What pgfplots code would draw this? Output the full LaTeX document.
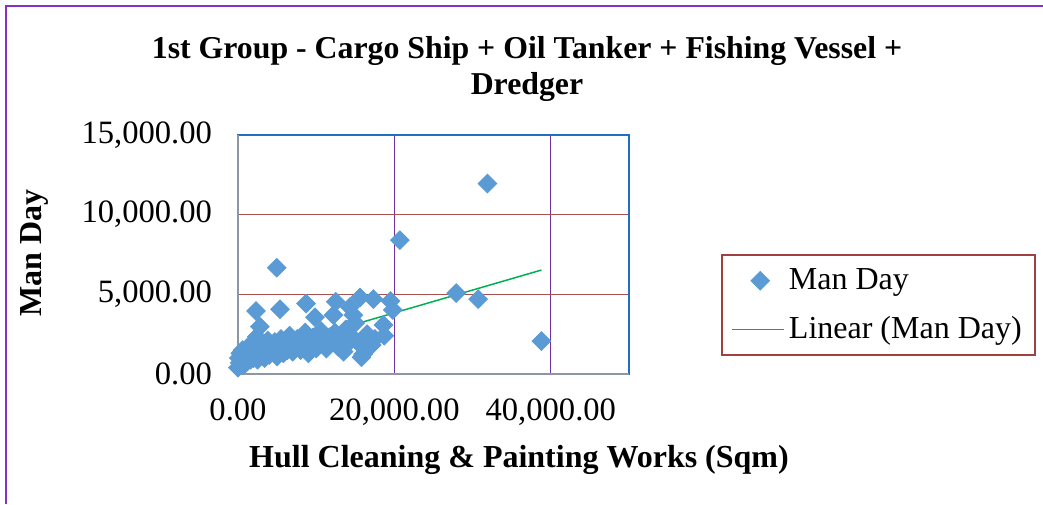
\documentclass[border=0pt]{standalone}
\usepackage{fontspec}
\setmainfont{Liberation Serif}
\usepackage{pgfplots}
\pgfplotsset{compat=1.18}

\definecolor{mdblue}{RGB}{91,155,213}
\definecolor{trendgreen}{RGB}{0,176,80}
\definecolor{gridred}{RGB}{166,80,80}
\definecolor{gridpurple}{RGB}{112,48,160}
\definecolor{framepurple}{RGB}{130,50,200}
\definecolor{plotblue}{RGB}{31,112,192}
\definecolor{axisgray}{RGB}{140,150,165}
\definecolor{legendred}{RGB}{160,64,64}

\pgfplotsset{
  marklegend/.style={legend image code/.code={\draw[mark repeat=2,mark phase=2,##1]
    plot coordinates {(0pt,0pt) (14pt,0pt) (28pt,0pt)};}},
  linelegend/.style={legend image code/.code={\draw[draw=trendgreen, line width=0.75pt]
    (0pt,0pt) -- (26pt,0pt);}},
}

\begin{document}
\begin{tikzpicture}
\useasboundingbox (0,0) rectangle (521.5pt,252pt);
\draw[framepurple, line width=1pt] (3pt,0) -- (3pt,248.75pt) -- (521.5pt,248.75pt);

% chart title
\node[font=\bfseries\fontsize{15.9}{18}\selectfont, align=center] at (263.5pt,217.5pt)
  {1st Group - Cargo Ship + Oil Tanker + Fishing Vessel +\\Dredger};

\begin{axis}[
    at={(119pt,65pt)}, anchor=south west,
    scale only axis, width=195.5pt, height=119.5pt,
    xmin=0, xmax=50000, ymin=0, ymax=15000,
    scaled ticks=false,
    xtick={0,20000,40000},
    xticklabels={{0.00},{20,000.00},{40,000.00}},
    ytick={0,5000,10000,15000},
    yticklabels={{0.00},{5,000.00},{10,000.00},{15,000.00}},
    major tick length=0pt,
    tick label style={font=\fontsize{16.3}{18}\selectfont},
    xticklabel style={yshift=-9pt},
    yticklabel style={xshift=-9.5pt},
    xmajorgrids, ymajorgrids,
    x grid style={gridpurple, line width=0.6pt},
    y grid style={gridred, line width=0.6pt},
    axis line style={plotblue, line width=1pt},
    clip=false,
    legend cell align=left,
    legend style={at={(1.238,0.287)}, anchor=west, name=leg,
      draw=none,
      font=\fontsize{16}{18}\selectfont,
      inner xsep=4.5pt, inner ysep=4.5pt, row sep=8pt},
]
\draw[axisgray, line width=1pt] (rel axis cs:0,1) -- (rel axis cs:0,0) -- (rel axis cs:1,0);

% Man Day vs hull area
\addplot[mdblue, only marks, mark=square*, mark size=3.3pt,
  mark options={rotate=45, fill=mdblue, draw=mdblue}, marklegend]
coordinates {
 (0,400) (200,700) (100,1000) (300,1300) (500,900) (600,1500) (800,600)
 (900,1100) (1000,1400) (1200,800) (1300,1700) (1500,1200) (1600,900)
 (1800,1500) (2000,1000) (2100,1800) (2300,1300) (2400,2340) (2500,900)
 (2800,2970) (2700,1600) (3000,1200) (3200,1900) (3400,1000) (3600,1500)
 (3800,2100) (4000,1200) (4200,1700) (4500,1400) (4700,2000) (5000,1100)
 (5300,1600) (5500,2200) (5800,1300) (6000,1800) (6300,1500) (6600,2400)
 (7000,1400) (7300,1900) (7600,2200) (8000,1500) (8300,1800) (8600,2600)
 (9000,1300) (9300,2000) (9600,2300) (10000,1600) (10300,2100) (10600,2700)
 (11000,1800) (11300,1600) (11700,2300) (12000,2000) (12200,3700) (12400,2600)
 (12800,1700) (13200,2200) (13500,1400) (13800,2800) (14000,1900) (14300,2900)
 (14600,2300) (15000,3200) (15300,2000) (15800,1050) (16000,1250) (16200,1800)
 (16500,2500) (17100,1820) (17500,2200)
 (2300,3950) (5370,4060) (8700,4420) (9850,3560) (12500,4540) (14300,4200)
 (14750,3700) (15600,4800) (17300,4700) (19500,4580) (19800,4020) (18600,3075)
 (18700,2400)
 (4950,6670) (20700,8400) (27900,5080) (30700,4700) (31900,11950) (38800,2070)
};
\addlegendentry{Man Day}

% linear trend line
\addplot[trendgreen, line width=0.75pt, linelegend]
coordinates {(0,985) (38800,6525)};
\addlegendentry{Linear (Man Day)}
\end{axis}
\draw[legendred, line width=1pt] (leg.south west) rectangle (leg.north east);

% axis titles
\node[font=\bfseries\fontsize{16}{18}\selectfont, rotate=90] at (17pt,125.5pt) {Man Day};
\node[font=\bfseries\fontsize{16}{18}\selectfont] at (259.5pt,22pt)
  {Hull Cleaning \& Painting Works (Sqm)};
\end{tikzpicture}
\end{document}
